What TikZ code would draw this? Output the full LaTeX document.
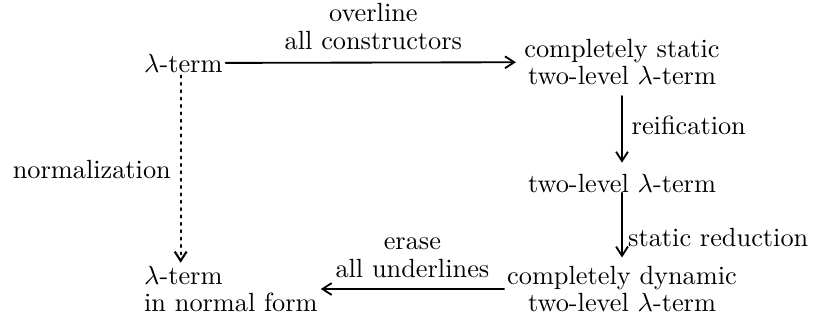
\documentclass[tikz,border=0pt]{standalone}
\usetikzlibrary{arrows.meta}

\begin{document}
\begin{tikzpicture}[line cap=round, line join=round, >={Straight Barb[length=3.5pt,width=4.5pt]}, x=0.013355cm, y=-0.013355cm]
	
	% Bounding box (pixel units of the reference)
	\useasboundingbox (0,0) rectangle (814,321);
	
	\tikzset{term/.style={inner sep=1pt, align=center, font=\fontsize{10}{10.5}\selectfont}}
	
	% Terms
	\node[term, anchor=west] (lam) at (141,63) {$\lambda$-term};
	\node[term] (static) at (622,62) {completely static\\two-level $\lambda$-term};
	\node[term] (twolevel) at (622,183) {two-level $\lambda$-term};
	\node[term] (dynamic) at (622,289) {completely dynamic\\two-level $\lambda$-term};
	\node[term, anchor=west, align=left] (normal) at (141,289) {$\lambda$-term\\in normal form};
	
	% Horizontal arrows
	\draw[->, line width=0.7pt, shorten >=2pt] (lam) -- (static)
	node[term, midway, above=3.5pt] {overline\\all constructors};
	\draw[->, line width=0.7pt] (dynamic) -- (normal)
	node[term, midway, above=3pt] {erase\\all underlines};
	
	% Vertical arrows
	\draw[->, line width=0.7pt, shorten >=3pt, shorten <=3pt] (static) -- (twolevel)
	node[pos=0.45, right] {reification};
	\draw[->, line width=0.7pt, shorten >=2pt, shorten <=-1pt] (twolevel) -- (dynamic)
	node[pos=0.62, right, inner sep=2pt] {static reduction};
	
	% Normalization
	\draw[->, line width=0.8pt, dotted] ([xshift=-1pt]lam.south) -- ([xshift=-1pt]lam.south |- normal.north)
	node[midway, left] {normalization};
	
\end{tikzpicture}
\end{document}
